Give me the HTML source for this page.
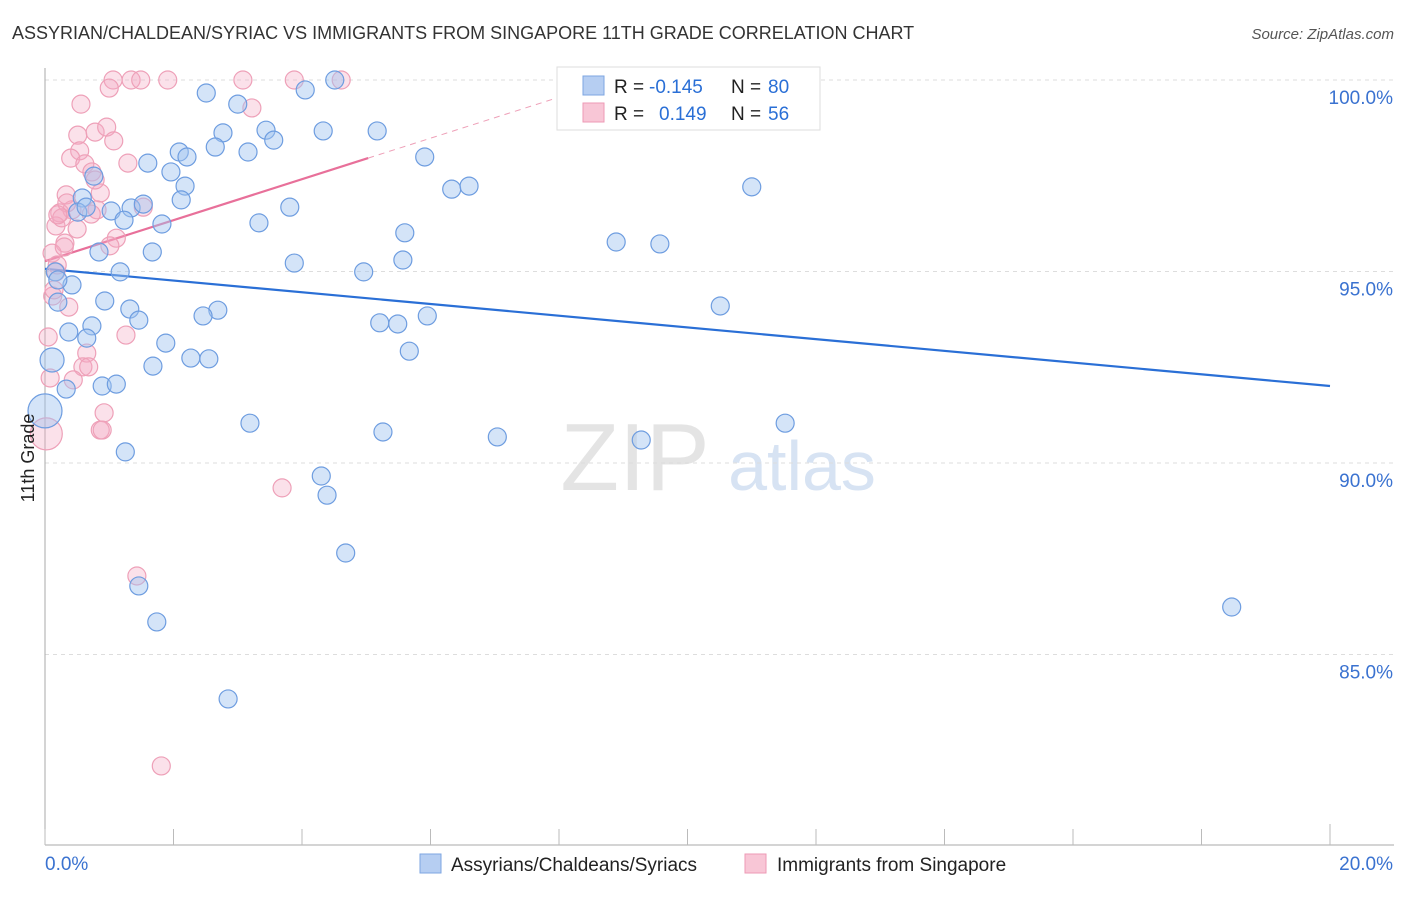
<!DOCTYPE html>
<html><head><meta charset="utf-8"><style>
body{margin:0;background:#fff;font-family:"Liberation Sans",sans-serif;}
svg text{font-family:"Liberation Sans",sans-serif;}
</style></head><body>
<svg id="chart" width="1406" height="892" viewBox="0 0 1406 892" xmlns="http://www.w3.org/2000/svg">
<text x="12" y="39" font-size="18" fill="#333">ASSYRIAN/CHALDEAN/SYRIAC VS IMMIGRANTS FROM SINGAPORE 11TH GRADE CORRELATION CHART</text>
<text x="1394" y="39" font-size="15" fill="#555" text-anchor="end" font-style="italic">Source: ZipAtlas.com</text>
<g>
<text x="635" y="490" font-size="96" fill="#e4e4e4" text-anchor="middle" font-family="Liberation Serif">ZIP</text>
<text x="802" y="490" font-size="70" fill="#d7e3f3" text-anchor="middle">atlas</text>
</g>
<g id="grid"></g><g id="axes"></g><g id="lines"></g><g id="pts"></g>
<text transform="translate(34,458) rotate(-90)" font-size="18" fill="#222" text-anchor="middle">11th Grade</text>
<g>
<rect x="557" y="67" width="263" height="63" fill="#fff" stroke="#ddd"/>
<rect x="583" y="76" width="21" height="19" fill="#b6cef2" stroke="#7da6e2"/>
<rect x="583" y="103" width="21" height="19" fill="#f8c6d6" stroke="#ee9ab5"/>
<text x="614" y="93" font-size="19" fill="#222">R =</text>
<text x="649" y="93" font-size="19" fill="#2a6fd6">-0.145</text>
<text x="731" y="93" font-size="19" fill="#222">N =</text>
<text x="768" y="93" font-size="19" fill="#2a6fd6">80</text>
<text x="614" y="120" font-size="19" fill="#222">R =</text>
<text x="659" y="120" font-size="19" fill="#2a6fd6">0.149</text>
<text x="731" y="120" font-size="19" fill="#222">N =</text>
<text x="768" y="120" font-size="19" fill="#2a6fd6">56</text>
</g>
<g>
<rect x="420" y="854" width="21" height="19" fill="#b6cef2" stroke="#7da6e2"/>
<text x="451" y="871" font-size="19" fill="#222">Assyrians/Chaldeans/Syriacs</text>
<rect x="745" y="854" width="21" height="19" fill="#f8c6d6" stroke="#ee9ab5"/>
<text x="777" y="871" font-size="19" fill="#222">Immigrants from Singapore</text>
</g>
</svg>
<script>
const blueX=[2.51,4.05,4.51,3.00,2.77,3.44,3.56,4.33,5.17,2.65,3.16,2.09,2.21,1.60,1.96,2.18,2.12,0.76,0.58,0.51,0.64,1.03,1.34,1.53,1.23,1.82,3.33,3.81,1.67,0.84,1.17,0.16,4.96,3.88,5.57,5.60,5.91,6.33,6.60,8.89,9.57,11.00,0.42,0.20,0.93,1.32,1.46,2.69,2.46,0.73,0.37,0.65,1.88,5.21,5.49,5.95,5.67,10.51,0.11,2.27,2.55,1.68,0.33,0.89,1.11,3.19,5.26,7.04,9.28,11.52,1.25,4.30,4.39,4.68,1.46,1.74,2.85,18.47,0.20,0.0];
const blueY=[99.66,99.74,100,99.37,98.62,98.69,98.43,98.67,98.67,98.25,98.12,98.12,97.99,97.83,97.60,97.23,96.87,97.49,96.92,96.55,96.68,96.58,96.66,96.76,96.34,96.24,96.27,96.68,95.51,95.51,94.99,94.99,94.99,95.22,95.30,96.01,97.99,97.15,97.23,95.77,95.72,97.21,94.65,94.20,94.23,94.02,93.73,93.99,93.84,93.58,93.42,93.26,93.13,93.66,93.63,93.84,92.92,94.10,92.69,92.74,92.72,92.53,91.93,92.01,92.06,91.04,90.81,90.68,90.60,91.04,90.29,89.66,89.16,87.65,86.79,85.85,83.84,86.24,94.78,91.36];
const pinkX=[1.06,1.34,1.49,1.91,3.08,3.88,4.61,1.00,3.22,0.56,0.51,0.78,0.96,1.07,0.54,0.40,0.62,1.29,0.73,0.86,0.78,0.33,0.42,0.23,0.81,0.34,0.72,1.53,0.17,0.50,1.11,1.01,0.31,0.11,0.17,0.12,0.37,1.26,0.05,0.65,0.59,0.68,0.44,0.08,0.92,0.86,0.89,3.69,1.43,1.81,0.30,0.26,0.20,0.14,0.19,0.02];
const pinkY=[100,100,100,100,100,100,100,99.79,99.27,99.37,98.56,98.64,98.77,98.41,98.15,97.96,97.81,97.83,97.60,97.05,97.39,97.00,96.61,96.53,96.61,96.79,96.50,96.68,96.19,96.11,95.87,95.67,95.74,95.48,94.99,94.36,94.07,93.34,93.29,92.87,92.51,92.51,92.17,92.22,91.31,90.86,90.86,89.35,87.05,82.09,95.64,96.40,96.48,94.52,95.17,90.76];
const yTicks=[100,95,90,85];
const yTickLabels=["100.0%","95.0%","90.0%","85.0%"];
const xTickVals=[0,2,4,6,8,10,12,14,16,18,20];
const blueTrend=[95.07,92.01];
const pinkTrend=[95.27,0.535];

const NS="http://www.w3.org/2000/svg";
const X=v=>45+v*64.25, Y=v=>80+(100-v)*38.3;
function mk(t,a,p){const e=document.createElementNS(NS,t);for(const k in a)e.setAttribute(k,a[k]);p.appendChild(e);return e;}
const grid=document.getElementById('grid'),axes=document.getElementById('axes'),lines=document.getElementById('lines'),pts=document.getElementById('pts');
yTicks.forEach((v,i)=>{
 const l=mk('line',{x1:45,x2:1394,y1:Y(v),y2:Y(v),stroke:'#ddd','stroke-dasharray':'4,4'},grid);
 
 
 const t=mk('text',{x:1393,y:Y(v)+24,'font-size':19,fill:'#3a72d0','text-anchor':'end'},axes);
 t.textContent=yTickLabels[i];
 
 
});
const ax=mk('line',{x1:45,x2:45,y1:68,y2:845,stroke:'#aaa'},axes);


const bx=mk('line',{x1:45,x2:1394,y1:845,y2:845,stroke:'#aaa'},axes);


xTickVals.forEach((v,i)=>{
 const tk=mk('line',{x1:X(v),x2:X(v),y1:(i==10?824:829),y2:845,stroke:'#bbb'},axes);
 
 
});
const xl=mk('text',{x:45,y:870,'font-size':19,fill:'#3a72d0'},axes);xl.textContent='0.0%';


const xr=mk('text',{x:1393,y:870,'font-size':19,fill:'#3a72d0','text-anchor':'end'},axes);xr.textContent='20.0%';



const bl=mk('line',{x1:X(0),y1:Y(blueTrend[0]),x2:X(20),y2:Y(blueTrend[1]),stroke:'#2a6fd6','stroke-width':2.2},lines);


const pe=(100-pinkTrend[0])/pinkTrend[1];
const pd=mk('line',{x1:X(5.03),y1:Y(pinkTrend[0]+pinkTrend[1]*5.03),x2:X(pe),y2:Y(100),stroke:'#eea0b8','stroke-width':1,'stroke-dasharray':'6,5'},lines);


const pl=mk('line',{x1:X(0),y1:Y(pinkTrend[0]),x2:X(5.03),y2:Y(pinkTrend[0]+pinkTrend[1]*5.03),stroke:'#e8709a','stroke-width':2.2},lines);



pinkX.forEach((x,i)=>{
 const c=mk('circle',{cx:X(x),cy:Y(pinkY[i]),r:(i==55?16:9),fill:'rgba(244,170,195,0.35)',stroke:'#eea0b8','stroke-width':1.2},pts);
 
 
});
blueX.forEach((x,i)=>{
 const c=mk('circle',{cx:X(x),cy:Y(blueY[i]),r:(i==79?17:(i==58?12:9)),fill:'rgba(160,196,240,0.45)',stroke:'#6e9de0','stroke-width':1.2},pts);
 
 
});
</script>
</body></html>
